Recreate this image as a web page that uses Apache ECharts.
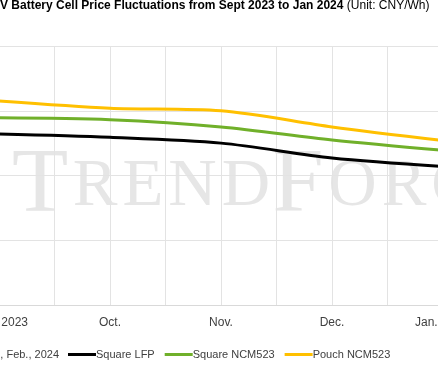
<!DOCTYPE html>
<html>
<head>
<meta charset="utf-8">
<script src="https://cdn.jsdelivr.net/npm/echarts@6/dist/echarts.min.js"></script>
<style>
html,body{margin:0;padding:0;background:#fff;overflow:hidden;width:438px;height:366px;position:relative;}
#c{position:absolute;left:-100px;top:0;width:638px;height:366px;}
</style>
</head>
<body>
<div id="c"></div>
<script>
var categories = ['Sept. 2023', 'Oct.', 'Nov.', 'Dec.', 'Jan., 2024'];
var squareLFP = [0.564, 0.559, 0.550, 0.527, 0.514];
var squareNCM523 = [0.589, 0.586, 0.575, 0.555, 0.539];
var pouchNCM523 = [0.615, 0.604, 0.600, 0.575, 0.554];
var yTicks = [0.3, 0.4, 0.5, 0.6, 0.7];

function pairs(arr) { return arr.map(function (v, i) { return [i, v]; }); }

// the chart canvas is wider than the window and shifted 100px left (cropped view)
var OFF = 100;
var chart = echarts.init(document.getElementById('c'), null, { renderer: 'canvas' });
var font = 'Liberation Sans, Arial, sans-serif';
var serif = 'Liberation Serif, Times New Roman, serif';
chart.setOption({
  animation: false,
  backgroundColor: '#fff',
  title: {
    left: OFF - 8, top: 0,
    text: '{b|EV Battery Cell Price Fluctuations from Sept 2023 to Jan 2024 }{n|(Unit: CNY/Wh)}',
    textStyle: {
      rich: {
        b: { fontFamily: font, fontWeight: 'bold', fontSize: 12, color: '#000' },
        n: { fontFamily: font, fontWeight: 'normal', fontSize: 12, color: '#000' }
      }
    },
    padding: 0
  },
  graphic: [
    {
      type: 'text', z: -10, left: OFF + 12, top: 141, silent: true,
      style: {
        text: '{t|T}{s|R}{s|E}{s|N}{s|D}{t|F}{s|O}{s|R}{s|C}{s|E}',
        rich: {
          t: { fontFamily: serif, fontSize: 92, fill: '#e6e6e6', padding: [0, 2, 0, 0] },
          s: { fontFamily: serif, fontSize: 67, fill: '#e6e6e6', padding: [0, 2.5, 0, 2.5] }
        }
      }
    },
    {
      type: 'text', right: 638 - OFF - 59, top: 349,
      style: { text: 'Source: TrendForce, Feb., 2024', fontFamily: font, fontSize: 11, fill: '#404040' }
    }
  ],
  legend: {
    left: OFF + 68, top: 349,
    itemWidth: 28, itemHeight: 3, itemGap: 10,
    icon: 'rect',
    padding: 0,
    textStyle: { fontFamily: font, fontSize: 11, color: '#404040', padding: [0, 0, 0, -5] },
    data: ['Square LFP', 'Square NCM523', 'Pouch NCM523']
  },
  grid: { left: OFF - 56.5, width: 555, top: 46, bottom: 61, containLabel: false },
  xAxis: {
    type: 'value', min: -0.5, max: 4.5, interval: 0.5,
    axisLine: { show: true, lineStyle: { color: '#d9d9d9', width: 1 } },
    axisTick: { show: false },
    splitLine: { show: true, lineStyle: { color: '#e3e3e3', width: 1 } },
    axisLabel: {
      fontFamily: font, fontSize: 12, color: '#404040', margin: 12,
      showMinLabel: true, showMaxLabel: true,
      formatter: function (v) {
        var r = Math.round(v);
        return Math.abs(v - r) < 1e-6 && categories[r] !== undefined ? categories[r] : '';
      }
    }
  },
  yAxis: {
    type: 'value', min: yTicks[0], max: yTicks[yTicks.length - 1], interval: 0.1,
    axisLine: { show: false }, axisTick: { show: false },
    axisLabel: { show: false },
    splitLine: { show: true, lineStyle: { color: '#e3e3e3', width: 1 } }
  },
  series: [
    { name: 'Square LFP', type: 'line', data: pairs(squareLFP), symbol: 'none', smooth: 0.3,
      lineStyle: { color: '#000000', width: 3 }, itemStyle: { color: '#000000' } },
    { name: 'Square NCM523', type: 'line', data: pairs(squareNCM523), symbol: 'none', smooth: 0.3,
      lineStyle: { color: '#70B02A', width: 3 }, itemStyle: { color: '#70B02A' } },
    { name: 'Pouch NCM523', type: 'line', data: pairs(pouchNCM523), symbol: 'none', smooth: 0.3,
      lineStyle: { color: '#FFC000', width: 3 }, itemStyle: { color: '#FFC000' } }
  ]
});
</script>
</body>
</html>
